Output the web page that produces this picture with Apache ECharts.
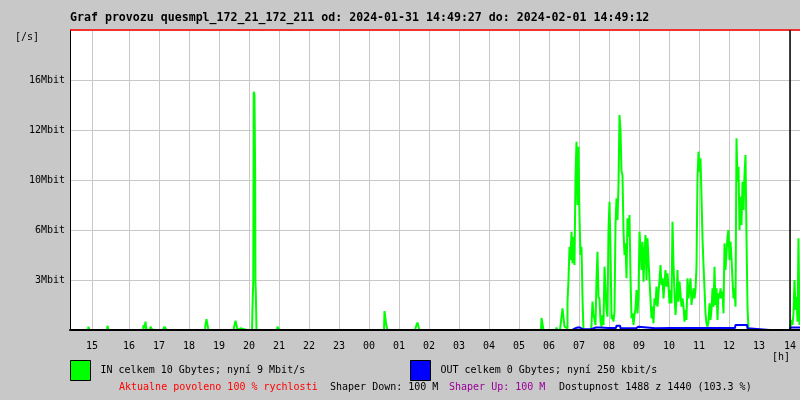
<!DOCTYPE html>
<html><head><meta charset="utf-8">
<script src="https://cdn.jsdelivr.net/npm/echarts@6/dist/echarts.min.js"></script>
<style>html,body{margin:0;padding:0;background:#c8c8c8}#c{width:800px;height:400px}</style>
</head><body><div id="c"></div>
<script>
// ---- texts ----
const titleText = 'Graf provozu quesmpl_172_21_172_211 od: 2024-01-31 14:49:27 do: 2024-02-01 14:49:12';
const inName = 'IN celkem 10 Gbytes; nyní 9 Mbit/s';
const outName = 'OUT celkem 0 Gbytes; nyní 250 kbit/s';
const footTexts = ['Aktualne povoleno 100 % rychlosti', 'Shaper Down: 100 M', 'Shaper Up: 100 M', 'Dostupnost 1488 z 1440 (103.3 %)'];

// ---- x axis: sample slots (2 samples per slot), hour boundaries ----
const slotMax = 730;
const hourTicks = [22,59,89,119,149,179,209,239,269,299,329,359,389,419,449,479,509,539,569,599,629,659,689,720];
const hourLabels = ['15','16','17','18','19','20','21','22','23','00','01','02','03','04','05','06','07','08','09','10','11','12','13','14'];

// ---- y axis (Mbit/s) ----
const yTicks = [3,6,9,12,15];
const yLabels = ['3Mbit','6Mbit','10Mbit','12Mbit','16Mbit'];

// ---- IN traffic [slot, Mbit/s] ----
const inData = [
[0,0],[18,0],[19,0.2],[20,0],[37,0],[38,0.25],[39,0],[73,0],[74,0.3],[75,0.1],[76,0.5],[77,0],
[80,0],[81,0.2],[82,0.15],[83,0],[90,0],[91,0.1],[92,0],[94,0],[95,0.2],[96,0.2],[97,0],
[105,0],[106,0.1],[107,0],[117,0],[118,0.1],[119,0],[135,0],[136,0.3],[137,0.65],[138,0.3],[139,0],
[146,0],[147,0.1],[148,0],[160,0],[161,0.1],[162,0],[165,0],[166,0.55],[167,0.55],[168,0],[169,0],[170,0.1],[171,0],
[182,0],[183,1.4],[183.5,2.9],[184,14.3],[185,14.1],[185.3,9.3],[185.6,2.9],[186,2.3],[187,0],
[193,0],[194,0.1],[195,0],[207,0],[208,0.2],[209,0.2],[210,0],[234,0],[235,0.08],[236,0],
[248,0],[249,0.1],[250,0],[269,0],[270,0.06],[271,0],
[314,0],[315,1.14],[316,1.14],[316.5,0.3],[317,0.3],[318,0],[333,0],[334,0.1],[335,0],
[345,0],[346,0.1],[347,0.3],[348,0.45],[349,0.2],[350,0],[387,0],[388,0.1],[389,0],
[401,0],[402,0.1],[403,0],[436,0],[437,0.1],[438,0],[471,0],[472,0.72],[473,0.72],[474,0],
[476,0],[477,0.05],[478,0],[486,0],[487,0.15],[488,0],[492,0],
[493,1.3],[494,1.3],[495,0.2],[496,0.2],[497,0.1],[498,1.7],[499,3.0],[500,5.0],[501,4.2],[502,5.9],
[503,4.0],[504,5.6],[505,3.9],[506,9.2],[507,11.3],[508,7.5],[509,11.0],[510,6.7],[511,4.5],[512,5.0],
[513,1.9],[514,0],[521,0],[522,0.3],[523,1.7],[524,0.9],[525,0.66],[526,0.3],[527,3.0],[528,4.7],
[529,2.0],[530,1.86],[531,0.5],[532,0.2],[533,0.9],[534,0.3],[535,3.8],[536,2.5],[537,1.2],[538,0.8],
[539,6.0],[540,7.7],[541,4.9],[542,0.66],[543,0.9],[544,0.5],[545,1.1],[546,6.3],[547,7.9],[548,6.6],
[549,8.7],[550,12.9],[551,12.0],[552,9.5],[553,9.3],[554,5.9],[555,4.5],[556,5.2],[557,3.1],[558,6.7],
[559,5.6],[560,6.9],[561,3.2],[562,0.7],[563,1.0],[564,0.3],[565,0.9],[566,1.3],[567,2.4],[568,1.0],
[569,2.0],[570,5.9],[571,4.9],[572,3.6],[573,5.3],[574,2.9],[575,4.6],[576,5.7],[577,3.0],[578,5.5],
[579,4.2],[580,3.0],[581,2.9],[582,0.7],[583,1.4],[584,0.4],[585,1.9],[586,1.5],[587,2.6],[588,1.4],
[589,2.2],[590,3.0],[591,3.9],[592,2.7],[593,3.1],[594,1.9],[595,2.8],[596,3.6],[597,2.6],[598,3.4],
[599,2.6],[600,1.6],[601,2.4],[602,1.6],[603,6.5],[604,3.9],[605,2.2],[606,0.9],[607,1.8],[608,3.6],
[609,1.7],[610,2.9],[611,2.2],[612,1.4],[613,1.9],[614,1.4],[615,0.5],[616,1.2],[617,0.6],[618,3.1],
[619,1.9],[620,2.5],[621,3.1],[622,1.5],[623,2.0],[624,2.5],[625,1.9],[626,2.4],[627,3.8],[628,9.1],
[629,10.7],[630,9.5],[631,10.3],[632,8.0],[633,5.5],[634,3.9],[635,2.5],[636,1.0],[637,0.4],[638,0.2],
[639,0.5],[640,1.6],[641,0.6],[642,1.2],[643,2.5],[644,1.4],[645,3.8],[646,1.5],[647,2.5],[648,0.6],
[649,2.2],[650,1.9],[651,2.5],[652,1.9],[653,2.3],[654,1.0],[655,5.2],[656,3.6],[657,4.6],[658,5.6],
[659,6.0],[660,4.2],[661,5.3],[662,4.3],[663,3.0],[664,1.9],[665,2.5],[666,1.4],[667,11.5],[668,8.9],
[669,9.8],[670,6.0],[671,8.0],[672,6.3],[673,8.9],[674,7.2],[675,9.3],[676,10.5],[677,5.6],[678,1.4],
[679,0],[720,0],[721,0.2],[722,0.6],[723,0.3],[724,1.0],[725,3.0],[726,1.2],[727,2.0],[728,0.5],[729,5.5],[730,0.3]
];

// ---- OUT traffic [slot, Mbit/s] ----
const outData = [
[0,0],[183,0],[184,0.06],[185,0],[314,0],[315,0.06],[316,0],[502,0],[503,0.1],[507,0.1],[508,0.15],[512,0.15],
[513,0.05],[521,0.05],[522,0.15],[530,0.15],[531,0.12],[546,0.12],[547,0.26],[550,0.26],[551,0.1],[566,0.1],
[567,0.2],[570,0.2],[571,0.1],[600,0.12],[630,0.12],[665,0.12],[666,0.3],[677,0.3],[678,0.1],[679,0],
[720,0],[721,0.15],[730,0.15]
];

const mono = 'DejaVu Sans Mono';
const chart = echarts.init(document.getElementById('c'), null, {renderer:'canvas'});
chart.setOption({
  backgroundColor: '#c8c8c8',
  animation: false,
  grid: {left:70, right:0, top:30, bottom:70, show:true, backgroundColor:'#ffffff', borderWidth:0},
  xAxis: [{
    type:'value', min:0, max:slotMax,
    axisLine:{show:false},
    axisTick:{show:false, customValues: hourTicks},
    axisLabel:{customValues: hourTicks, margin:11, fontFamily:mono, fontSize:10, color:'#000',
      formatter: v => hourLabels[hourTicks.indexOf(v)] || ''},
    splitLine:{show:true, lineStyle:{color:'#c8c8c8', width:1}}
  },{
    type:'value', min:0, max:slotMax, position:'bottom', z:10,
    axisLine:{show:true, lineStyle:{color:'#000', width:2}},
    axisTick:{show:false}, axisLabel:{show:false}, splitLine:{show:false}
  }],
  yAxis: {
    type:'value', min:0, max:18, interval:3,
    axisLine:{show:true, lineStyle:{color:'#000', width:1}},
    axisTick:{show:false},
    axisLabel:{margin:5, fontFamily:mono, fontSize:10, color:'#000',
      formatter: v => yLabels[yTicks.indexOf(v)] || ''},
    splitLine:{show:true, lineStyle:{color:'#c8c8c8', width:1}}
  },
  legend: [
    {data:[inName], left:70, top:360, padding:0, itemWidth:20, itemHeight:20, icon:'rect', selectedMode:false,
     itemStyle:{borderColor:'#000', borderWidth:1},
     textStyle:{fontFamily:mono, fontSize:10, color:'#000', padding:[0,0,6,5]}},
    {data:[outName], left:410, top:360, padding:0, itemWidth:20, itemHeight:20, icon:'rect', selectedMode:false,
     itemStyle:{borderColor:'#000', borderWidth:1},
     textStyle:{fontFamily:mono, fontSize:10, color:'#000', padding:[0,0,6,5]}}
  ],
  series: [
    {name:inName, type:'line', step:'middle', data:inData, xAxisIndex:0, showSymbol:false, symbol:'none',
     color:'#00ff00', lineStyle:{color:'#00ff00', width:2},
     markLine:{silent:true, symbol:'none', label:{show:false},
       data:[{yAxis:18, lineStyle:{color:'#ff0000', width:1.5, type:'solid'}},
             {xAxis:720, lineStyle:{color:'#000', width:1.5, type:'solid'}}]}},
    {name:outName, type:'line', step:'middle', data:outData, xAxisIndex:0, showSymbol:false, symbol:'none',
     color:'#0000ff', lineStyle:{color:'#0000ff', width:2}}
  ],
  graphic: [
    {type:'text', x:70, y:18, style:{text:titleText, font:'bold 11.6px "DejaVu Sans Mono"', fill:'#000', verticalAlign:'middle'}},
    {type:'text', x:15, y:37, style:{text:'[/s]', font:'10px "DejaVu Sans Mono"', fill:'#000', verticalAlign:'middle'}},
    {type:'text', x:772, y:357, style:{text:'[h]', font:'10px "DejaVu Sans Mono"', fill:'#000', verticalAlign:'middle'}},
    {type:'text', x:119, y:387, style:{text:footTexts[0], font:'10px "DejaVu Sans Mono"', fill:'#ff0000', verticalAlign:'middle'}},
    {type:'text', x:330, y:387, style:{text:footTexts[1], font:'10px "DejaVu Sans Mono"', fill:'#000', verticalAlign:'middle'}},
    {type:'text', x:449, y:387, style:{text:footTexts[2], font:'10px "DejaVu Sans Mono"', fill:'#990099', verticalAlign:'middle'}},
    {type:'text', x:559, y:387, style:{text:footTexts[3], font:'10px "DejaVu Sans Mono"', fill:'#000', verticalAlign:'middle'}}
  ]
});
</script></body></html>
